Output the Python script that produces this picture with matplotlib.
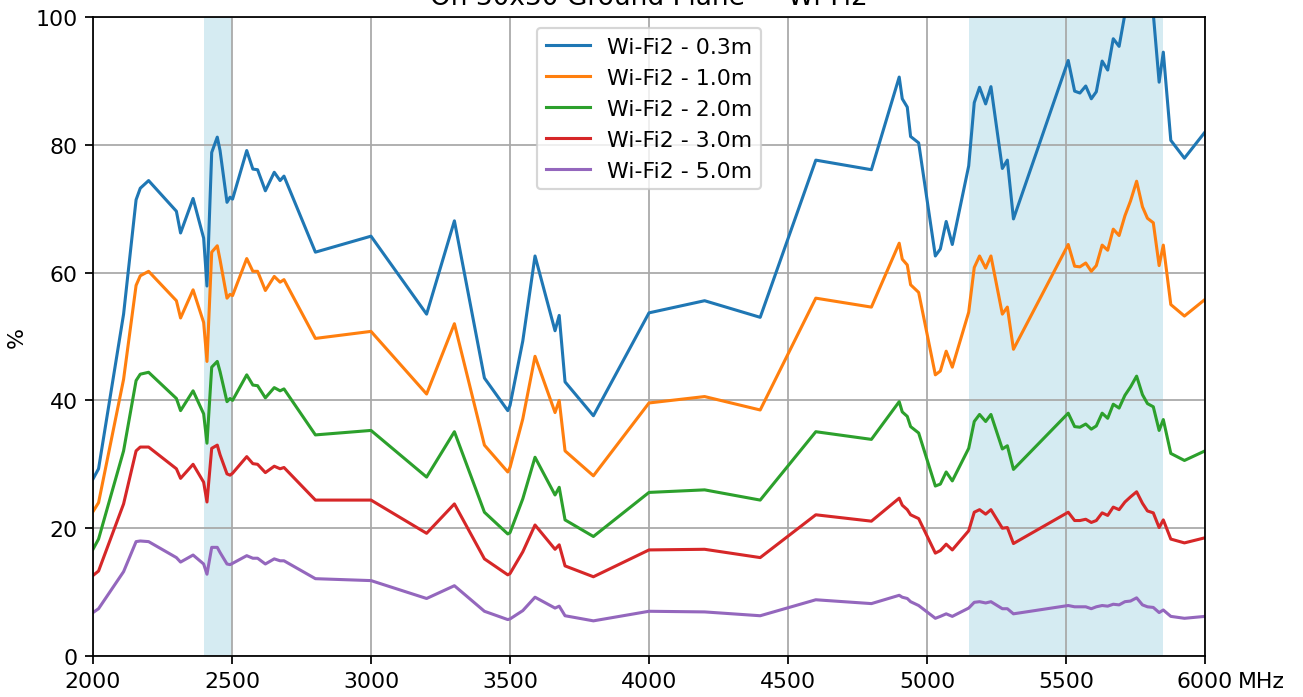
import matplotlib
matplotlib.use("Agg")
import matplotlib.pyplot as plt

freq_mhz = [2000, 2020, 2110, 2155, 2170, 2200, 2300, 2315, 2360, 2398,
            2410, 2427, 2447, 2457, 2482, 2493, 2502, 2553, 2575, 2592,
            2620, 2652, 2673, 2687, 2800, 3000, 3200, 3300, 3408, 3492,
            3500, 3546, 3590, 3662, 3677, 3698, 3800, 4000, 4200, 4400,
            4600, 4800, 4900, 4911, 4929, 4941, 4970, 5030, 5048, 5069,
            5091, 5150, 5170, 5189, 5211, 5230, 5271, 5289, 5311, 5508,
            5531, 5550, 5571, 5591, 5609, 5630, 5650, 5670, 5691, 5712,
            5732, 5754, 5775, 5793, 5814, 5835, 5850, 5877, 5926, 6000]

eff_03m = [27.7, 29.3, 53.5, 71.4, 73.2, 74.4, 69.6, 66.2, 71.6, 65.4,
           57.9, 78.8, 81.2, 79.1, 71.0, 71.8, 71.5, 79.1, 76.2, 76.1,
           72.8, 75.7, 74.4, 75.1, 63.2, 65.7, 53.5, 68.1, 43.5, 38.4,
           39.2, 49.3, 62.6, 50.9, 53.3, 42.9, 37.6, 53.7, 55.6, 53.0,
           77.6, 76.1, 90.6, 87.2, 85.9, 81.3, 80.3, 62.6, 63.7, 68.0,
           64.4, 76.7, 86.6, 89.0, 86.4, 89.1, 76.3, 77.6, 68.4, 93.2,
           88.4, 88.1, 89.2, 87.2, 88.3, 93.1, 91.7, 96.6, 95.4, 100.5,
           104.0, 108.0, 104.0, 102.0, 100.5, 89.8, 94.5, 80.7, 77.9, 82.0]

eff_10m = [22.6, 24.0, 43.3, 58.0, 59.5, 60.2, 55.6, 52.9, 57.3, 52.2,
           46.1, 63.2, 64.2, 62.0, 56.0, 56.6, 56.4, 62.2, 60.2, 60.2,
           57.2, 59.4, 58.5, 58.9, 49.7, 50.8, 41.0, 52.0, 33.0, 28.8,
           29.5, 37.1, 46.9, 38.1, 40.0, 32.1, 28.2, 39.6, 40.6, 38.5,
           56.0, 54.6, 64.6, 62.1, 61.2, 58.1, 56.9, 44.0, 44.6, 47.7,
           45.2, 53.8, 60.8, 62.6, 60.7, 62.6, 53.5, 54.6, 48.0, 64.4,
           61.0, 60.9, 61.5, 60.2, 61.1, 64.3, 63.5, 66.8, 65.8, 68.9,
           71.2, 74.3, 70.3, 68.5, 67.8, 61.1, 64.3, 55.0, 53.2, 55.8]

eff_20m = [16.7, 18.3, 32.1, 43.1, 44.1, 44.4, 40.3, 38.4, 41.5, 37.9,
           33.3, 45.2, 46.1, 44.5, 39.8, 40.3, 40.0, 44.0, 42.4, 42.3,
           40.4, 42.0, 41.5, 41.8, 34.6, 35.3, 28.0, 35.1, 22.5, 19.1,
           19.3, 24.6, 31.1, 25.2, 26.4, 21.3, 18.7, 25.6, 26.0, 24.4,
           35.1, 33.9, 39.8, 38.2, 37.5, 35.9, 34.9, 26.6, 26.9, 28.8,
           27.4, 32.5, 36.7, 37.8, 36.7, 37.8, 32.4, 32.9, 29.2, 38.0,
           35.9, 35.8, 36.3, 35.5, 36.0, 38.0, 37.2, 39.4, 38.8, 40.8,
           42.1, 43.8, 40.9, 39.5, 39.0, 35.3, 37.0, 31.7, 30.6, 32.1]

eff_30m = [12.6, 13.3, 23.8, 32.1, 32.7, 32.7, 29.3, 27.8, 30.0, 27.2,
           24.1, 32.5, 33.0, 31.5, 28.5, 28.3, 28.6, 31.2, 30.1, 30.0,
           28.7, 29.7, 29.3, 29.5, 24.4, 24.4, 19.2, 23.8, 15.2, 12.7,
           12.9, 16.3, 20.5, 16.7, 17.4, 14.1, 12.4, 16.6, 16.7, 15.4,
           22.1, 21.1, 24.7, 23.6, 22.9, 22.1, 21.5, 16.1, 16.5, 17.5,
           16.6, 19.6, 22.5, 22.9, 22.2, 22.9, 20.0, 20.1, 17.6, 22.5,
           21.2, 21.2, 21.4, 20.9, 21.2, 22.4, 22.0, 23.3, 22.9, 24.1,
           24.9, 25.7, 23.9, 22.7, 22.4, 20.1, 21.3, 18.3, 17.7, 18.5]

eff_50m = [6.8, 7.4, 13.2, 17.9, 18.0, 17.9, 15.4, 14.7, 15.8, 14.4,
           12.8, 17.0, 17.0, 16.2, 14.4, 14.3, 14.5, 15.7, 15.3, 15.3,
           14.4, 15.2, 14.9, 14.9, 12.1, 11.8, 9.0, 11.0, 7.0, 5.7,
           5.8, 7.1, 9.2, 7.5, 7.8, 6.3, 5.5, 7.0, 6.9, 6.3,
           8.8, 8.2, 9.5, 9.2, 9.0, 8.5, 7.9, 5.9, 6.2, 6.6,
           6.2, 7.5, 8.4, 8.5, 8.3, 8.5, 7.4, 7.4, 6.6, 7.9,
           7.7, 7.7, 7.7, 7.4, 7.7, 7.9, 7.8, 8.1, 8.0, 8.5,
           8.6, 9.1, 8.0, 7.7, 7.6, 6.8, 7.2, 6.2, 5.9, 6.2]

series_labels = ["Wi-Fi2 - 0.3m", "Wi-Fi2 - 1.0m", "Wi-Fi2 - 2.0m",
                 "Wi-Fi2 - 3.0m", "Wi-Fi2 - 5.0m"]
bands = [(2400, 2500), (5150, 5850)]
x_ticks = [2000, 2500, 3000, 3500, 4000, 4500, 5000, 5500, 6000]
y_ticks = [0, 20, 40, 60, 80, 100]

W, H, DPI = 1303, 698, 158
fig = plt.figure(figsize=(W / DPI, H / DPI), dpi=DPI)
ax = fig.add_axes([93 / W, 1 - 657 / H, (1205 - 93) / W, (657 - 18) / H])

for lo, hi in bands:
    ax.axvspan(lo, hi, color="lightblue", alpha=0.5, lw=0, zorder=0)

for vals, lab in zip([eff_03m, eff_10m, eff_20m, eff_30m, eff_50m], series_labels):
    ax.plot(freq_mhz, vals, label=lab, lw=1.4)

ax.set_xlim(2000, 6000)
ax.set_ylim(0, 100)
ax.set_xticks(x_ticks)
ax.set_yticks(y_ticks)
ax.grid(True, color="#a8a8a8", lw=0.8)
ax.set_axisbelow(True)
ax.set_ylabel("%")
ax.set_title("On 30x30 Ground Plane — Wi-Fi2")
ax.annotate("MHz", xy=(1, 0), xycoords="axes fraction", xytext=(15, -7),
            textcoords="offset points", ha="left", va="top", fontsize=10)
ax.legend(loc="upper center")

fig.savefig("out.png", dpi=DPI)
